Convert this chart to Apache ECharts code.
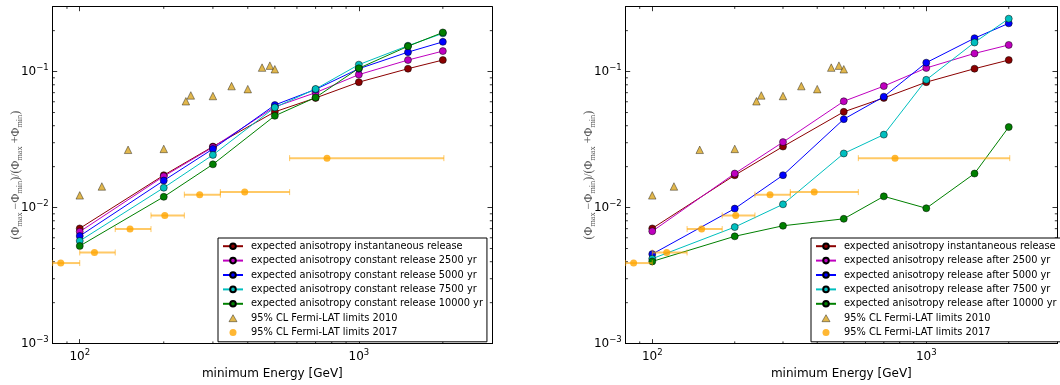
<!DOCTYPE html>
<html><head><meta charset="utf-8">
<script src="https://cdn.jsdelivr.net/npm/echarts@6/dist/echarts.min.js"></script>
<style>html,body{margin:0;padding:0;background:#fff}#c{width:1060px;height:385px}</style>
</head><body><div id="c"></div>
<script>
// ---------- data ----------
const energies = [100, 200, 300, 500, 700, 1000, 1500, 2000];

const leftNames = [
  'expected anisotropy instantaneous release',
  'expected anisotropy constant release 2500 yr',
  'expected anisotropy constant release 5000 yr',
  'expected anisotropy constant release 7500 yr',
  'expected anisotropy constant release 10000 yr'
];
const rightNames = [
  'expected anisotropy instantaneous release',
  'expected anisotropy release after 2500 yr',
  'expected anisotropy release after 5000 yr',
  'expected anisotropy release after 7500 yr',
  'expected anisotropy release after 10000 yr'
];
const fermi2010Name = '95% CL Fermi-LAT limits 2010';
const fermi2017Name = '95% CL Fermi-LAT limits 2017';

const instantaneous = [0.00703, 0.0173, 0.0281, 0.0506, 0.064, 0.0836, 0.105, 0.1216];
const const2500  = [0.00665, 0.0170, 0.0278, 0.0550, 0.0700, 0.0950, 0.1216, 0.1415];
const const5000  = [0.00618, 0.0158, 0.0270, 0.0568, 0.0740, 0.1050, 0.1390, 0.1654];
const const7500  = [0.00569, 0.0140, 0.0244, 0.0545, 0.0745, 0.1125, 0.1550, 0.1910];
const const10000 = [0.00522, 0.0120, 0.0208, 0.0473, 0.0645, 0.1058, 0.1535, 0.1940];

const after2500  = [0.00670, 0.0178, 0.0303, 0.0605, 0.0782, 0.1063, 0.1360, 0.1570];
const after5000  = [0.00455, 0.00983, 0.0173, 0.0447, 0.0654, 0.1163, 0.1760, 0.2264];
const after7500  = [0.00421, 0.00719, 0.01057, 0.0250, 0.0344, 0.0870, 0.1637, 0.2450];
const after10000 = [0.00402, 0.00615, 0.00735, 0.00827, 0.0121, 0.00989, 0.0178, 0.0391];

const fermi2010E = [100, 120, 149, 200, 240, 250, 300, 350, 400, 450, 480, 500];
const fermi2010V = [0.0123, 0.0143, 0.0266, 0.0270, 0.0605, 0.0668, 0.0661, 0.0782, 0.0743, 0.107, 0.1106, 0.104];

const fermi2017E  = [85.5, 112.9, 151.4, 201.7, 269, 390, 769];
const fermi2017V  = [0.00391, 0.00468, 0.00695, 0.00875, 0.01245, 0.0130, 0.0231];
const fermi2017Lo = [80, 100, 134, 180, 237, 319, 565];
const fermi2017Hi = [100, 134, 180, 237, 319, 565, 2017];

const xMinorTicks = [90, 200, 300, 400, 500, 600, 700, 800, 900, 2000];
const yMinorTicks = [0.002, 0.003, 0.004, 0.005, 0.006, 0.007, 0.008, 0.009,
                     0.02, 0.03, 0.04, 0.05, 0.06, 0.07, 0.08, 0.09, 0.2];

const X_MIN = 80, X_MAX = 3000, Y_MIN = 0.001, Y_MAX = 0.3;
const lineColors = ['#8b0000', '#bf00bf', '#0000ff', '#00bfbf', '#008000'];

// ---------- helpers ----------
const FONT = 'DejaVu Sans';
function powLabel(v) {
  const e = Math.round(Math.log10(v));
  if (Math.abs(v - Math.pow(10, e)) / v > 1e-6) return '';
  return '{b|10}{s|' + String(e).replace('-', '\u2212') + '}';
}
const labelRich = {
  b: {fontSize: 12, fontFamily: FONT, color: '#000'},
  s: {fontSize: 8.5, fontFamily: FONT, color: '#000', padding: [0, 0, 8, 0]}
};
function xAxis(gi, pos) {
  const bottom = pos === 'bottom';
  return {
    type: 'log', logBase: 10, gridIndex: gi, position: pos, min: X_MIN, max: X_MAX,
    axisLine: {show: true, onZero: false, lineStyle: {color: '#000', width: 1}},
    axisTick: {show: true, inside: true, length: 4.5, lineStyle: {color: '#000', width: 0.8}},
    minorTick: {show: false}, splitLine: {show: false},
    axisLabel: {show: bottom, margin: 5, formatter: powLabel, rich: labelRich, hideOverlap: false},
    name: bottom ? 'minimum Energy [GeV]' : '',
    nameLocation: 'middle', nameGap: 23,
    nameTextStyle: {fontSize: 12, fontFamily: FONT, color: '#000'}
  };
}
function yAxis(gi, pos) {
  const left = pos === 'left';
  return {
    type: 'log', logBase: 10, gridIndex: gi, position: pos, min: Y_MIN, max: Y_MAX,
    axisLine: {show: true, onZero: false, lineStyle: {color: '#000', width: 1}},
    axisTick: {show: true, inside: true, length: 4.5, lineStyle: {color: '#000', width: 0.8}},
    minorTick: {show: false}, splitLine: {show: false},
    axisLabel: {show: left, margin: 4, formatter: powLabel, rich: labelRich, hideOverlap: false},
    name: left ? '{n|(\u03A6}{u|max}{n| \u2212\u03A6}{u|min}{n|)/(\u03A6}{u|max}{n| +\u03A6}{u|min}{n|)}' : '',
    nameLocation: 'middle', nameRotate: 90, nameGap: 29, nameMoveOverlap: false,
    nameTextStyle: {
      rich: {
        n: {fontSize: 12, fontFamily: 'Liberation Serif', color: '#555'},
        u: {fontSize: 8.4, fontFamily: 'Liberation Serif', color: '#555', padding: [7, 0, 0, 0]}
      }
    }
  };
}
function lineSeries(name, values, color, ax) {
  return {
    type: 'line', name: name, xAxisIndex: ax, yAxisIndex: ax,
    data: energies.map((e, i) => [e, values[i]]),
    symbol: 'circle', symbolSize: 7, showSymbol: true,
    lineStyle: {color: color, width: 1},
    itemStyle: {color: color, borderColor: '#000', borderWidth: 0.5},
    z: 3
  };
}
function fermiSeries(ax) {
  return [
    {
      type: 'custom', name: 'fermi2017bars', xAxisIndex: ax, yAxisIndex: ax,
      data: fermi2017E.map((e, i) => [e, fermi2017V[i], fermi2017Lo[i], fermi2017Hi[i]]),
      encode: {x: 0, y: 1},
      renderItem: function (params, api) {
        const y = api.value(1);
        const p1 = api.coord([api.value(2), y]);
        const p2 = api.coord([api.value(3), y]);
        const c = 'rgba(255,165,0,0.6)';
        return {type: 'group', children: [
          {type: 'line', shape: {x1: p1[0], y1: p1[1], x2: p2[0], y2: p2[1]}, style: {stroke: c, lineWidth: 2}},
          {type: 'line', shape: {x1: p1[0], y1: p1[1] - 3, x2: p1[0], y2: p1[1] + 3}, style: {stroke: c, lineWidth: 1}},
          {type: 'line', shape: {x1: p2[0], y1: p2[1] - 3, x2: p2[0], y2: p2[1] + 3}, style: {stroke: c, lineWidth: 1}}
        ]};
      },
      z: 4, silent: true
    },
    {
      type: 'scatter', name: fermi2017Name, xAxisIndex: ax, yAxisIndex: ax,
      data: fermi2017E.map((e, i) => [e, fermi2017V[i]]),
      symbol: 'circle', symbolSize: 7,
      itemStyle: {color: '#ffa500', borderWidth: 0}, z: 5
    },
    {
      type: 'scatter', name: fermi2010Name, xAxisIndex: ax, yAxisIndex: ax,
      data: fermi2010E.map((e, i) => [e, fermi2010V[i]]),
      symbol: 'triangle', symbolSize: 7.5,
      itemStyle: {color: '#daa520', borderColor: '#000', borderWidth: 0.5}, z: 5
    }
  ];
}
function minorTickSeries(ax) {
  const data = xMinorTicks.map(v => [v, Y_MIN, 0]).concat(yMinorTicks.map(v => [X_MIN, v, 1]));
  return {
    type: 'custom', name: 'minorTicks', xAxisIndex: ax, yAxisIndex: ax, silent: true,
    data: data, encode: {x: 0, y: 1},
    renderItem: function (params, api) {
      const L = 2.2;
      const st = {stroke: '#000', lineWidth: 0.8};
      const bl = api.coord([X_MIN, Y_MIN]);
      const tr = api.coord([X_MAX, Y_MAX]);
      if (api.value(2) === 0) {
        const x = api.coord([api.value(0), Y_MIN])[0];
        return {type: 'group', children: [
          {type: 'line', shape: {x1: x, y1: bl[1], x2: x, y2: bl[1] - L}, style: st},
          {type: 'line', shape: {x1: x, y1: tr[1], x2: x, y2: tr[1] + L}, style: st}
        ]};
      } else {
        const y = api.coord([X_MIN, api.value(1)])[1];
        return {type: 'group', children: [
          {type: 'line', shape: {x1: bl[0], y1: y, x2: bl[0] + L, y2: y}, style: st},
          {type: 'line', shape: {x1: tr[0], y1: y, x2: tr[0] - L, y2: y}, style: st}
        ]};
      }
    },
    z: 1
  };
}

const legendCommon = {
  orient: 'vertical', top: 238, z: 20, backgroundColor: '#fff', borderColor: '#000', borderWidth: 1,
  borderRadius: 0, padding: [1, 4, 2, 4], itemWidth: 20, itemHeight: 7, itemGap: 0,
  selectedMode: false, symbolKeepAspect: true,
  textStyle: {fontSize: 9.8, fontFamily: FONT, color: '#000', lineHeight: 14.4, padding: [0, 0, 0, 3]}
};
const trianglePath = 'path://M5,0L10,8.66L0,8.66Z';
function legendData(names) {
  return names.concat([
    {name: fermi2010Name, icon: trianglePath, itemStyle: {color: '#daa520', borderWidth: 0.5, borderColor: '#000'}},
    {name: fermi2017Name, icon: 'circle'}
  ]);
}

const series = [];
[instantaneous, const2500, const5000, const7500, const10000].forEach((v, i) =>
  series.push(lineSeries(leftNames[i], v, lineColors[i], 0)));
series.push(...fermiSeries(0));
series.push(minorTickSeries(0));
[instantaneous, after2500, after5000, after7500, after10000].forEach((v, i) =>
  series.push(lineSeries(rightNames[i], v, lineColors[i], 2)));
series.push(...fermiSeries(2));
series.push(minorTickSeries(2));

const chart = echarts.init(document.getElementById('c'), null, {renderer: 'canvas'});
chart.setOption({
  animation: false,
  backgroundColor: '#fff',
  grid: [
    {left: 52.7, top: 6.7, width: 439.3, height: 340.3},
    {left: 625.7, top: 6.7, width: 439.3, height: 340.3}
  ],
  xAxis: [xAxis(0, 'bottom'), xAxis(0, 'top'), xAxis(1, 'bottom'), xAxis(1, 'top')],
  yAxis: [yAxis(0, 'left'), yAxis(0, 'right'), yAxis(1, 'left'), yAxis(1, 'right')],
  legend: [
    Object.assign({}, legendCommon, {left: 218, data: legendData(leftNames)}),
    Object.assign({}, legendCommon, {left: 811, data: legendData(rightNames)})
  ],
  series: series
});
</script></body></html>
